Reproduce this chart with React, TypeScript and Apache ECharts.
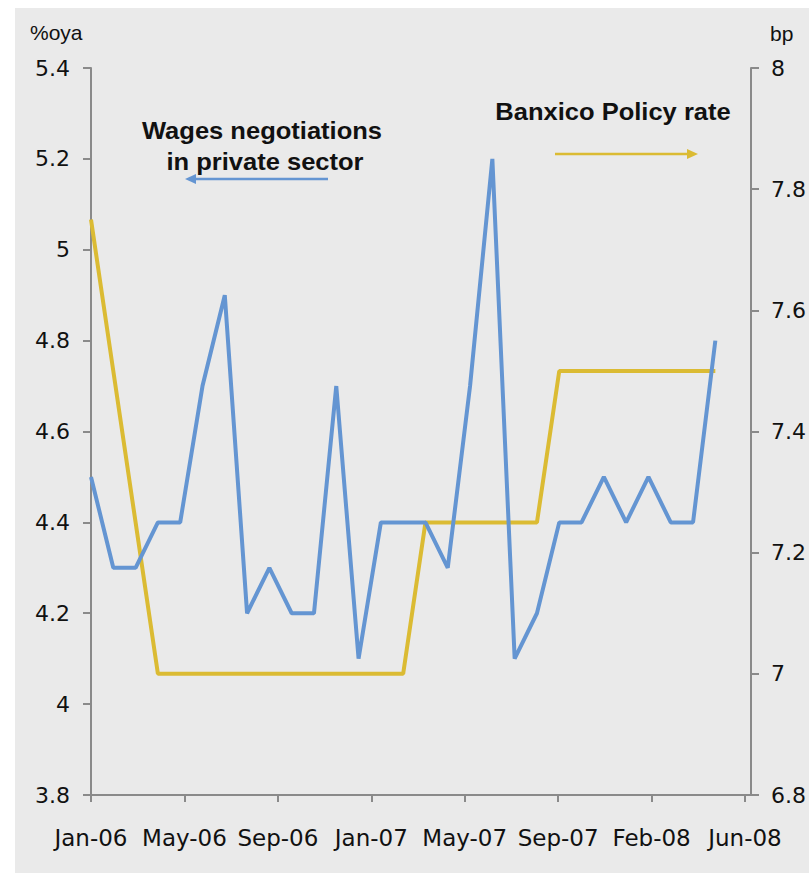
import React, { useEffect, useRef } from "react";
import * as echarts from "echarts";

// Monthly observations, Jan-06 .. May-08 (index = months since Jan-06)
const wages: number[] = [
  4.5, 4.3, 4.3, 4.4, 4.4, 4.7, 4.9, 4.2, 4.3, 4.2, 4.2, 4.7,
  4.1, 4.4, 4.4, 4.4, 4.3, 4.7, 5.2, 4.1, 4.2, 4.4, 4.4, 4.5,
  4.4, 4.5, 4.4, 4.4, 4.8,
];
const policyRate: number[] = [
  7.75, 7.5, 7.25, 7.0, 7.0, 7.0, 7.0, 7.0, 7.0, 7.0, 7.0, 7.0,
  7.0, 7.0, 7.0, 7.25, 7.25, 7.25, 7.25, 7.25, 7.25, 7.5, 7.5, 7.5,
  7.5, 7.5, 7.5, 7.5, 7.5,
];
const xTickLabels: string[] = [
  "Jan-06", "May-06", "Sep-06", "Jan-07", "May-07", "Sep-07", "Feb-08", "Jun-08",
];
const X_MAX = 29.6;
const X_STEP = 4.19;

const BLUE = "#6495D2";
const YELLOW = "#DBBB33";
const AXIS = "#8A8A8A";

export default function App() {
  const ref = useRef<HTMLDivElement>(null);

  useEffect(() => {
    if (!ref.current) return;
    const chart = echarts.init(ref.current, null, { renderer: "svg" });
    const tickVals = xTickLabels.map((_, i) => +(i * X_STEP).toFixed(4));
    const wagesData = wages.map((v, i) => [i, v]);
    const rateData = policyRate.map((v, i) => [i, v]);

    const boldText = {
      fontFamily: "'Liberation Sans', Arial, sans-serif",
      fontWeight: "bold" as const,
      fontSize: 23,
      fill: "#111",
      align: "center" as const,
      verticalAlign: "middle" as const,
    };

    chart.setOption({
      animation: false,
      backgroundColor: "#ffffff",
      grid: { left: 91, right: 55, top: 68, bottom: 80 },
      xAxis: {
        type: "value",
        min: 0,
        max: X_MAX,
        splitLine: { show: false },
        axisLine: { show: true, lineStyle: { color: AXIS, width: 2 } },
        axisTick: {
          show: true,
          customValues: tickVals,
          length: 7,
          lineStyle: { color: AXIS, width: 2 },
        },
        axisLabel: {
          customValues: tickVals,
          margin: 31,
          fontFamily: "'DejaVu Sans', sans-serif",
          fontSize: 23,
          color: "#111",
          formatter: (v: number) => xTickLabels[Math.round(v / X_STEP)] ?? "",
        },
      },
      yAxis: [
        {
          type: "value",
          position: "left",
          min: 3.8,
          max: 5.4,
          interval: 0.2,
          splitLine: { show: false },
          axisLine: { show: true, lineStyle: { color: AXIS, width: 2 } },
          axisTick: { show: true, length: 8, lineStyle: { color: AXIS, width: 2 } },
          axisLabel: {
            margin: 21,
            fontFamily: "'DejaVu Sans', sans-serif",
            fontSize: 22,
            color: "#111",
          },
        },
        {
          type: "value",
          position: "right",
          min: 6.8,
          max: 8,
          interval: 0.2,
          splitLine: { show: false },
          axisLine: { show: true, lineStyle: { color: AXIS, width: 2 } },
          axisTick: { show: true, length: 8, lineStyle: { color: AXIS, width: 2 } },
          axisLabel: {
            margin: 20,
            fontFamily: "'DejaVu Sans', sans-serif",
            fontSize: 22,
            color: "#111",
          },
        },
      ],
      series: [
        {
          name: "Banxico Policy rate",
          type: "line",
          yAxisIndex: 1,
          data: rateData,
          showSymbol: false,
          lineStyle: { color: YELLOW, width: 4 },
          itemStyle: { color: YELLOW },
        },
        {
          name: "Wages negotiations in private sector",
          type: "line",
          yAxisIndex: 0,
          data: wagesData,
          showSymbol: false,
          lineStyle: { color: BLUE, width: 4 },
          itemStyle: { color: BLUE },
        },
      ],
      graphic: [
        {
          type: "rect",
          z: -10,
          silent: true,
          shape: { x: 15, y: 8, width: 794, height: 865 },
          style: { fill: "#EAEAEA" },
        },
        {
          type: "text",
          x: 30,
          y: 32,
          style: {
            text: "%oya",
            fontFamily: "'Liberation Sans', Arial, sans-serif",
            fontSize: 21,
            fill: "#111",
            verticalAlign: "middle",
          },
        },
        {
          type: "text",
          x: 770,
          y: 33,
          style: {
            text: "bp",
            fontFamily: "'Liberation Sans', Arial, sans-serif",
            fontSize: 21,
            fill: "#111",
            verticalAlign: "middle",
          },
        },
        {
          type: "text",
          x: 262,
          y: 131,
          scaleX: 1.11,
          style: { ...boldText, text: "Wages negotiations" },
        },
        {
          type: "text",
          x: 265,
          y: 162,
          scaleX: 1.11,
          style: { ...boldText, text: "in private sector" },
        },
        {
          type: "text",
          x: 613,
          y: 112,
          scaleX: 1.11,
          style: { ...boldText, text: "Banxico Policy rate" },
        },
        {
          type: "line",
          shape: { x1: 328, y1: 179, x2: 194, y2: 179 },
          style: { stroke: BLUE, lineWidth: 2.5 },
        },
        {
          type: "polygon",
          shape: { points: [[185, 179], [196, 174], [196, 184]] },
          style: { fill: BLUE },
        },
        {
          type: "line",
          shape: { x1: 555, y1: 154, x2: 690, y2: 154 },
          style: { stroke: YELLOW, lineWidth: 2.5 },
        },
        {
          type: "polygon",
          shape: { points: [[698, 154], [687, 149], [687, 159]] },
          style: { fill: YELLOW },
        },
      ],
    });
    return () => chart.dispose();
  }, []);

  return (
    <div
      ref={ref}
      style={{ position: "fixed", left: 0, top: 0, width: 809, height: 875 }}
    />
  );
}
